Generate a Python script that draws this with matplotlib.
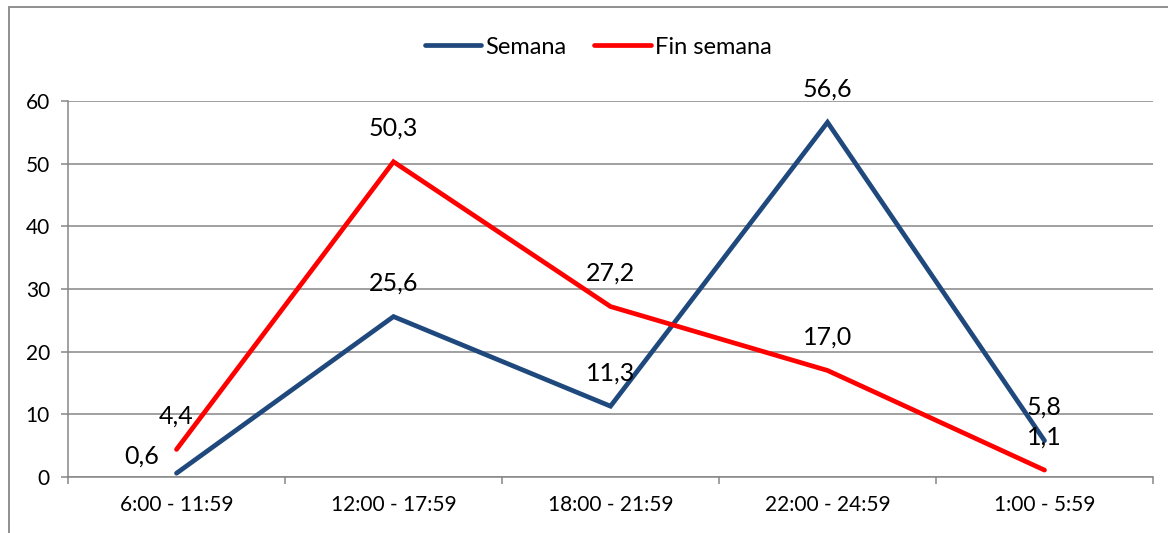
import matplotlib
matplotlib.use("Agg")
import matplotlib.pyplot as plt
from matplotlib.patches import Rectangle
from matplotlib.lines import Line2D

categories = ["6:00 - 11:59", "12:00 - 17:59", "18:00 - 21:59", "22:00 - 24:59", "1:00 - 5:59"]
semana = [0.6, 25.6, 11.3, 56.6, 5.8]
fin_semana = [4.4, 50.3, 27.2, 17.0, 1.1]
yticks = [0, 10, 20, 30, 40, 50, 60]

plt.rcParams['font.family'] = ['Lato', 'DejaVu Sans']

W, H = 1168, 533
fig = plt.figure(figsize=(W / 100, H / 100), dpi=100)
ax = fig.add_axes([68 / W, (H - 477) / H, 1085 / W, 376 / H])

grid_c = '#868686'
blue = '#1F497D'
red = '#FF0000'

x = list(range(len(categories)))
ax.plot(x, semana, color=blue, lw=3.4, solid_capstyle='round', solid_joinstyle='miter', zorder=3)
ax.plot(x, fin_semana, color=red, lw=3.4, solid_capstyle='round', solid_joinstyle='miter', zorder=3)

ax.set_xlim(-0.5, len(categories) - 0.5)
ax.set_ylim(0, 60)
ax.set_yticks(yticks)
ax.set_yticklabels([str(v) for v in yticks])
ax.set_xticks(x)
ax.set_xticklabels(categories)
ax.set_xticks([i - 0.5 for i in range(len(categories) + 1)], minor=True)

ax.tick_params(axis='x', which='major', length=0, pad=13, labelsize=15, labelcolor='black')
ax.tick_params(axis='x', which='minor', length=5, width=1.1, color=grid_c, direction='out')
ax.tick_params(axis='y', which='major', length=5, width=1.1, color=grid_c, direction='out',
               pad=8, labelsize=15, labelcolor='black')

ax.grid(axis='y', color=grid_c, lw=1.1)
ax.set_axisbelow(True)
for s in ['top', 'right']:
    ax.spines[s].set_visible(False)
for s in ['left', 'bottom']:
    ax.spines[s].set_color(grid_c)
    ax.spines[s].set_linewidth(1.1)
ax.spines['left'].set_zorder(2)

def fmt(v):
    return f"{v:.1f}".replace('.', ',')

for i, v in enumerate(semana):
    dx, dy = (0, 24)
    if i == 0:
        dx, dy = (-25, 12)
    ax.annotate(fmt(v), (i, v), xytext=(dx, dy), textcoords='offset points',
                ha='center', va='center', fontsize=18, color='black', zorder=4)
for i, v in enumerate(fin_semana):
    ax.annotate(fmt(v), (i, v), xytext=(0, 24), textcoords='offset points',
                ha='center', va='center', fontsize=18, color='black', zorder=4)

handles = [Line2D([], [], color=blue, lw=3.4, solid_capstyle='round'),
           Line2D([], [], color=red, lw=3.4, solid_capstyle='round')]
fig.legend(handles, ["Semana", "Fin semana"], loc='center', bbox_to_anchor=(598 / W, 1 - 47 / H),
           ncol=2, frameon=False, fontsize=17, handlelength=2.4, handletextpad=0.15,
           columnspacing=1.2)

fig.patches.append(Rectangle((9 / W, -0.1), 1.2, 1 - 7 / H + 0.1, transform=fig.transFigure,
                             fill=False, edgecolor='#878787', lw=1.3))

fig.savefig("out.png", dpi=100)
